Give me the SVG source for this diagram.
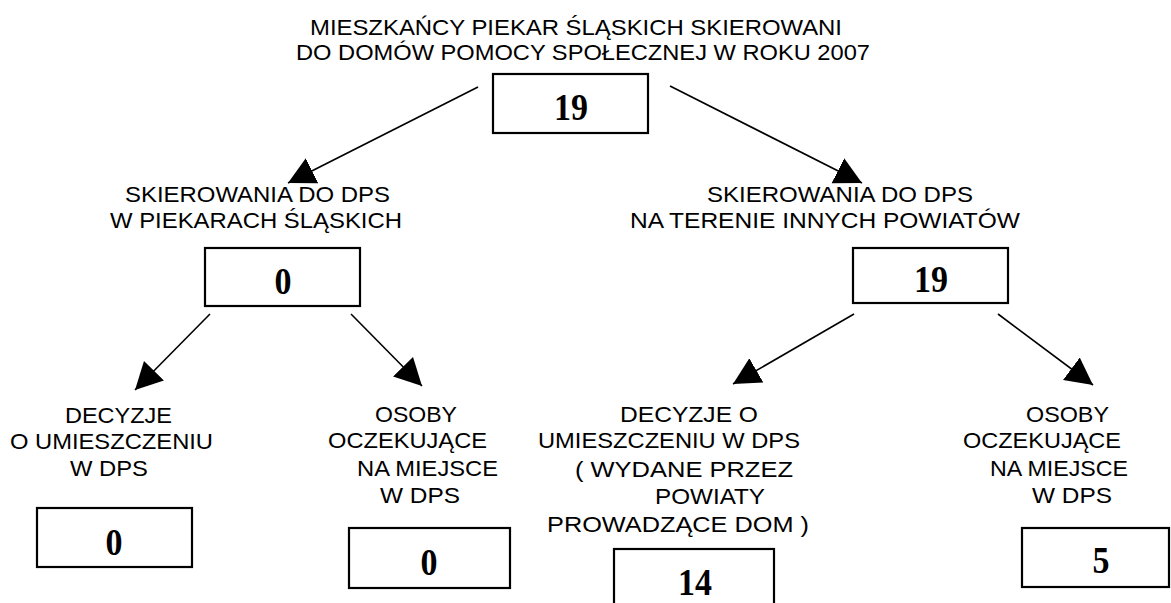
<svg xmlns="http://www.w3.org/2000/svg" width="1171" height="603" viewBox="0 0 1171 603">
<style>
.lbl{font-family:"Liberation Sans",Arial,sans-serif;font-size:22.5px;fill:#000}
.num{font-family:"Liberation Serif","Times New Roman",serif;font-size:38px;font-weight:bold;fill:#000;text-anchor:middle}
.box{fill:#fff;stroke:#000;stroke-width:2.2}
.con{stroke:#000;stroke-width:1.6;fill:none}
</style>
<defs>
<marker id="ah" markerUnits="userSpaceOnUse" markerWidth="28" markerHeight="30" refX="27" refY="14" orient="auto" viewBox="0 0 28 28">
<path d="M0,0 L27,14 L0,28 Z" fill="#000"/>
</marker>
</defs>
<rect x="0" y="0" width="1171" height="603" fill="#fff"/>

<g id="connectors">
<line class="con" x1="478" y1="87" x2="288" y2="183" marker-end="url(#ah)"/>
<line class="con" x1="670" y1="86" x2="862" y2="183" marker-end="url(#ah)"/>
<line class="con" x1="210" y1="314" x2="135" y2="390" marker-end="url(#ah)"/>
<line class="con" x1="351" y1="314" x2="422" y2="386" marker-end="url(#ah)"/>
<line class="con" x1="854" y1="314" x2="733" y2="384" marker-end="url(#ah)"/>
<line class="con" x1="998" y1="314" x2="1093" y2="385" marker-end="url(#ah)"/>
</g>

<g id="node-total">
<text class="lbl" x="310" y="35" textLength="532" lengthAdjust="spacingAndGlyphs">MIESZKAŃCY PIEKAR ŚLĄSKICH SKIEROWANI</text>
<text class="lbl" x="296" y="60" textLength="574" lengthAdjust="spacingAndGlyphs">DO DOMÓW POMOCY SPOŁECZNEJ W ROKU 2007</text>
<rect class="box" x="493" y="74" width="155" height="59"/>
<text class="num" x="571" y="120" textLength="34" lengthAdjust="spacingAndGlyphs">19</text>
</g>

<g id="node-piekary">
<text class="lbl" x="125" y="201.5" textLength="265" lengthAdjust="spacingAndGlyphs">SKIEROWANIA DO DPS</text>
<text class="lbl" x="110" y="228" textLength="292" lengthAdjust="spacingAndGlyphs">W PIEKARACH ŚLĄSKICH</text>
<rect class="box" x="205" y="248" width="155" height="58"/>
<text class="num" x="283" y="294" textLength="17" lengthAdjust="spacingAndGlyphs">0</text>
</g>

<g id="node-inne">
<text class="lbl" x="707" y="201.5" textLength="266" lengthAdjust="spacingAndGlyphs">SKIEROWANIA DO DPS</text>
<text class="lbl" x="630" y="228" textLength="390" lengthAdjust="spacingAndGlyphs">NA TERENIE INNYCH POWIATÓW</text>
<rect class="box" x="853" y="248" width="155" height="55"/>
<text class="num" x="931" y="292" textLength="34" lengthAdjust="spacingAndGlyphs">19</text>
</g>

<g id="node-decyzje-piekary">
<text class="lbl" x="65" y="422.5" textLength="107" lengthAdjust="spacingAndGlyphs">DECYZJE</text>
<text class="lbl" x="10" y="449.3" textLength="203" lengthAdjust="spacingAndGlyphs">O UMIESZCZENIU</text>
<text class="lbl" x="70" y="476" textLength="78" lengthAdjust="spacingAndGlyphs">W DPS</text>
<rect class="box" x="37" y="508" width="155" height="59"/>
<text class="num" x="114" y="555" textLength="17" lengthAdjust="spacingAndGlyphs">0</text>
</g>

<g id="node-oczekujace-piekary">
<text class="lbl" x="375" y="421.7" textLength="82" lengthAdjust="spacingAndGlyphs">OSOBY</text>
<text class="lbl" x="328" y="448" textLength="159" lengthAdjust="spacingAndGlyphs">OCZEKUJĄCE</text>
<text class="lbl" x="357" y="476" textLength="141" lengthAdjust="spacingAndGlyphs">NA MIEJSCE</text>
<text class="lbl" x="380" y="503" textLength="80" lengthAdjust="spacingAndGlyphs">W DPS</text>
<rect class="box" x="349" y="528" width="161" height="60"/>
<text class="num" x="429" y="575" textLength="17" lengthAdjust="spacingAndGlyphs">0</text>
</g>

<g id="node-decyzje-inne">
<text class="lbl" x="620" y="421.7" textLength="138" lengthAdjust="spacingAndGlyphs">DECYZJE O</text>
<text class="lbl" x="538" y="448.3" textLength="262" lengthAdjust="spacingAndGlyphs">UMIESZCZENIU W DPS</text>
<text class="lbl" x="575" y="476.5" textLength="218" lengthAdjust="spacingAndGlyphs">( WYDANE PRZEZ</text>
<text class="lbl" x="655" y="504" textLength="110" lengthAdjust="spacingAndGlyphs">POWIATY</text>
<text class="lbl" x="547" y="531.5" textLength="262" lengthAdjust="spacingAndGlyphs">PROWADZĄCE DOM )</text>
<rect class="box" x="614" y="549" width="160" height="62"/>
<text class="num" x="695" y="595" textLength="34" lengthAdjust="spacingAndGlyphs">14</text>
</g>

<g id="node-oczekujace-inne">
<text class="lbl" x="1026" y="421.7" textLength="83" lengthAdjust="spacingAndGlyphs">OSOBY</text>
<text class="lbl" x="963" y="448" textLength="158" lengthAdjust="spacingAndGlyphs">OCZEKUJĄCE</text>
<text class="lbl" x="990" y="476" textLength="138" lengthAdjust="spacingAndGlyphs">NA MIEJSCE</text>
<text class="lbl" x="1032" y="503" textLength="80" lengthAdjust="spacingAndGlyphs">W DPS</text>
<rect class="box" x="1022" y="528" width="147" height="59"/>
<text class="num" x="1101" y="573" textLength="17" lengthAdjust="spacingAndGlyphs">5</text>
</g>
</svg>
